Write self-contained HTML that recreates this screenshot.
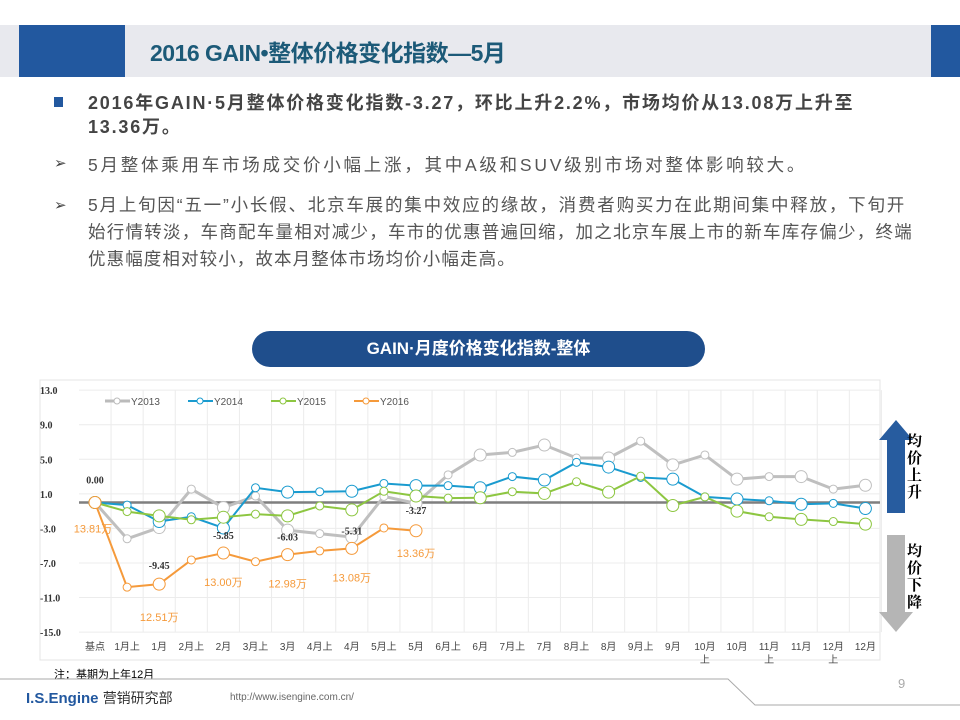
<!DOCTYPE html>
<html><head><meta charset="utf-8"><style>
body{margin:0;width:960px;height:720px;overflow:hidden;background:#fff;font-family:"Liberation Sans","Noto Sans CJK SC",sans-serif;position:relative}
.abs{position:absolute;white-space:nowrap}
p{margin:0}
</style></head><body>
<div class="abs" style="left:0;top:25px;width:960px;height:52px;background:#e8e9ee"></div>
<div class="abs" style="left:19px;top:25px;width:106px;height:52px;background:#22589f"></div>
<div class="abs" style="left:931px;top:25px;width:29px;height:52px;background:#22589f"></div>
<div class="abs" style="left:150px;top:34px;font-size:23px;font-weight:bold;color:#1c5a78;letter-spacing:-0.5px">2016 GAIN•整体价格变化指数—5月</div>
<div class="abs" style="left:54px;top:97px;width:9px;height:10px;background:#22589f"></div>
<div class="abs" style="left:88px;top:91px;font-size:18px;font-weight:bold;color:#444;line-height:24px;letter-spacing:1.8px">2016年GAIN·5月整体价格变化指数-3.27，环比上升2.2%，市场均价从13.08万上升至<br>13.36万。</div>
<div class="abs" style="left:54px;top:154px;font-size:15px;color:#444">➢</div>
<div class="abs" style="left:88px;top:152px;font-size:17.5px;color:#555;letter-spacing:2.75px">5月整体乘用车市场成交价小幅上涨，其中A级和SUV级别市场对整体影响较大。</div>
<div class="abs" style="left:54px;top:196px;font-size:15px;color:#444">➢</div>
<div class="abs" style="left:88px;top:192px;font-size:17.5px;color:#555;line-height:27px;letter-spacing:1.8px">5月上旬因“五一”小长假、北京车展的集中效应的缘故，消费者购买力在此期间集中释放，下旬开<br><span style="letter-spacing:1.25px">始行情转淡，车商配车量相对减少，车市的优惠普遍回缩，加之北京车展上市的新车库存偏少，终端</span><br><span style="letter-spacing:1.1px">优惠幅度相对较小，故本月整体市场均价小幅走高。</span></div>
<div class="abs" style="left:252px;top:331px;width:453px;height:36px;border-radius:18px;background:#1f4e8c;color:#fff;font-size:17px;font-weight:bold;text-align:center;line-height:36px">GAIN·月度价格变化指数-整体</div>
<svg class="abs" style="left:0;top:0" width="960" height="720" id="chart">
<rect x="40" y="380" width="840" height="280" fill="none" stroke="#e4e4e4"/>
<g id="grid"></g><g id="series"></g><g id="labels"></g>
<g font-size="10" fill="#555">
<line x1="105" y1="401" x2="130" y2="401" stroke="#bbb" stroke-width="3"/><circle cx="117" cy="401" r="3" fill="#fff" stroke="#bbb"/><text x="131" y="405">Y2013</text>
<line x1="188" y1="401" x2="213" y2="401" stroke="#1a9bcf" stroke-width="2"/><circle cx="200" cy="401" r="3" fill="#fff" stroke="#1a9bcf"/><text x="214" y="405">Y2014</text>
<line x1="271" y1="401" x2="296" y2="401" stroke="#8dc641" stroke-width="2"/><circle cx="283" cy="401" r="3" fill="#fff" stroke="#8dc641"/><text x="297" y="405">Y2015</text>
<line x1="354" y1="401" x2="379" y2="401" stroke="#f59a3b" stroke-width="2"/><circle cx="366" cy="401" r="3" fill="#fff" stroke="#f59a3b"/><text x="380" y="405">Y2016</text>
</g>
<polygon points="887,513 905,513 905,440 913,440 896,420 879,440 887,440" fill="#275c9f"/>
<polygon points="887,535 905,535 905,612 913,612 896,632 879,612 887,612" fill="#b5b5b5"/>
<text font-family="Liberation Serif,Noto Serif CJK SC,serif" font-size="15" fill="#000" font-weight="bold"><tspan x="907" y="446">均</tspan><tspan x="907" y="463">价</tspan><tspan x="907" y="480">上</tspan><tspan x="907" y="497">升</tspan></text>
<text font-family="Liberation Serif,Noto Serif CJK SC,serif" font-size="15" fill="#000" font-weight="bold"><tspan x="907" y="556">均</tspan><tspan x="907" y="573">价</tspan><tspan x="907" y="590">下</tspan><tspan x="907" y="607">降</tspan></text>
</svg>
<div class="abs" style="left:54px;top:666px;font-size:11px;color:#000">注：基期为上年12月</div>
<svg class="abs" style="left:0;top:0;pointer-events:none" width="960" height="720"><polyline points="0,679 728,679 755,705 960,705" fill="none" stroke="#aaa" stroke-width="1"/></svg>
<div class="abs" style="left:898px;top:676px;font-size:13px;color:#aaa">9</div>
<div class="abs" style="left:26px;top:688px;font-size:15px;font-weight:bold;color:#22589f">I.S.Engine <span style="font-weight:normal;font-size:14px;color:#333">营销研究部</span></div>
<div class="abs" style="left:230px;top:692px;font-size:10px;color:#666">http://www.isengine.com.cn/</div>
<script>
const categories=["基点","1月上","1月","2月上","2月","3月上","3月","4月上","4月","5月上","5月","6月上","6月","7月上","7月","8月上","8月","9月上","9月","10月上","10月","11月上","11月","12月上","12月"];
const y2013=[0,-4.2,-2.9,1.55,-0.6,0.75,-3.2,-3.6,-4.0,0.7,-0.1,3.2,5.5,5.8,6.65,5.15,5.15,7.1,4.35,5.5,2.7,3.0,3.0,1.55,2.0];
const y2014=[0,-0.3,-2.2,-1.65,-2.95,1.7,1.2,1.25,1.3,2.2,1.95,1.95,1.7,3.0,2.6,4.65,4.1,2.9,2.7,0.65,0.4,0.2,-0.2,-0.1,-0.7];
const y2015=[0,-1.05,-1.55,-2.0,-1.7,-1.35,-1.55,-0.4,-0.85,1.3,0.75,0.5,0.55,1.25,1.05,2.4,1.2,3.05,-0.35,0.65,-1.0,-1.65,-1.95,-2.2,-2.5];
const y2016=[0,-9.8,-9.45,-6.65,-5.85,-6.85,-6.03,-5.6,-5.31,-2.95,-3.27];
const yTicks=[13,9,5,1,-3,-7,-11,-15];
const indexLabels=["0.00","-9.45","-5.85","-6.03","-5.31","-3.27"];
const indexLabelIdx=[0,2,4,6,8,10];
const priceLabels=["13.81万","12.51万","13.00万","12.98万","13.08万","13.36万"];
const priceLabelIdx=[0,2,4,6,8,10];
const NS="http://www.w3.org/2000/svg";
const X0=95,DX=32.1,Y0=502.5,K=8.64;
const xs=i=>X0+i*DX, ys=v=>Y0-v*K;
function mk(tag,attrs,parent){const e=document.createElementNS(NS,tag);for(const k in attrs)e.setAttribute(k,attrs[k]);parent.appendChild(e);return e;}
const grid=document.getElementById('grid'),ser=document.getElementById('series'),lab=document.getElementById('labels');
yTicks.forEach(t=>{
 const l=mk('line',{x1:79,x2:880,y1:ys(t),y2:ys(t),stroke:'#ececec'},grid);
 
 
 const tx=mk('text',{x:40,y:ys(t)+4,'font-size':10,'font-weight':'bold','font-family':'Liberation Serif,serif',fill:'#333'},grid);
 tx.textContent=t.toFixed(1);
 
 
});
categories.forEach((c,i)=>{
 const l=mk('line',{x1:xs(i)+DX/2,x2:xs(i)+DX/2,y1:ys(13),y2:ys(-15),stroke:'#ececec'},grid);
 
 
 const tx=mk('text',{x:xs(i),y:650,'font-size':10,'text-anchor':'middle',fill:'#444'},grid);
 
 
 if(c.length>3&&c.startsWith('1')){tx.textContent=c.slice(0,-1);const t2=mk('text',{x:xs(i),y:663,'font-size':10,'text-anchor':'middle',fill:'#444'},grid);t2.textContent='上';}
 else tx.textContent=c;
});
const zl=mk('line',{x1:79,x2:880,y1:ys(0),y2:ys(0),stroke:'#7f7f7f','stroke-width':2.5},grid);


function series(arr,color,w,name){
 const pl=mk('polyline',{points:arr.map((v,i)=>xs(i)+','+ys(v)).join(' '),fill:'none',stroke:color,'stroke-width':w},ser);
 
 
 arr.forEach((v,i)=>{
  const c=mk('circle',{cx:xs(i),cy:ys(v),r:(i%2===0?6:4),fill:'#fff',stroke:color,'stroke-width':1},ser);
  
  
 });
}
series(y2013,'#bfbfbf',3,'y2013');
series(y2014,'#1a9bcf',2,'y2014');
series(y2015,'#8dc641',2,'y2015');
series(y2016,'#f59a3b',2,'y2016');
const idxOff=[-19,-15,-14,-14,-14,-17];
indexLabels.forEach((t,j)=>{
 const i=indexLabelIdx[j];
 const tx=mk('text',{x:xs(i),y:ys(y2016[i])+idxOff[j],'font-size':10,'font-weight':'bold','font-family':'Liberation Serif,serif','text-anchor':'middle',fill:'#333'},lab);
 tx.textContent=t;
 
 
});
const priceOff=[30,37,33,33,33,26];
priceLabels.forEach((t,j)=>{
 const i=priceLabelIdx[j];
 const tx=mk('text',{x:xs(i)+(j===0?-2:0),y:ys(y2016[i])+priceOff[j],'font-size':11,'text-anchor':'middle',fill:'#f59a3b'},lab);
 tx.textContent=t;
 
 
});
</script>
</body></html>
